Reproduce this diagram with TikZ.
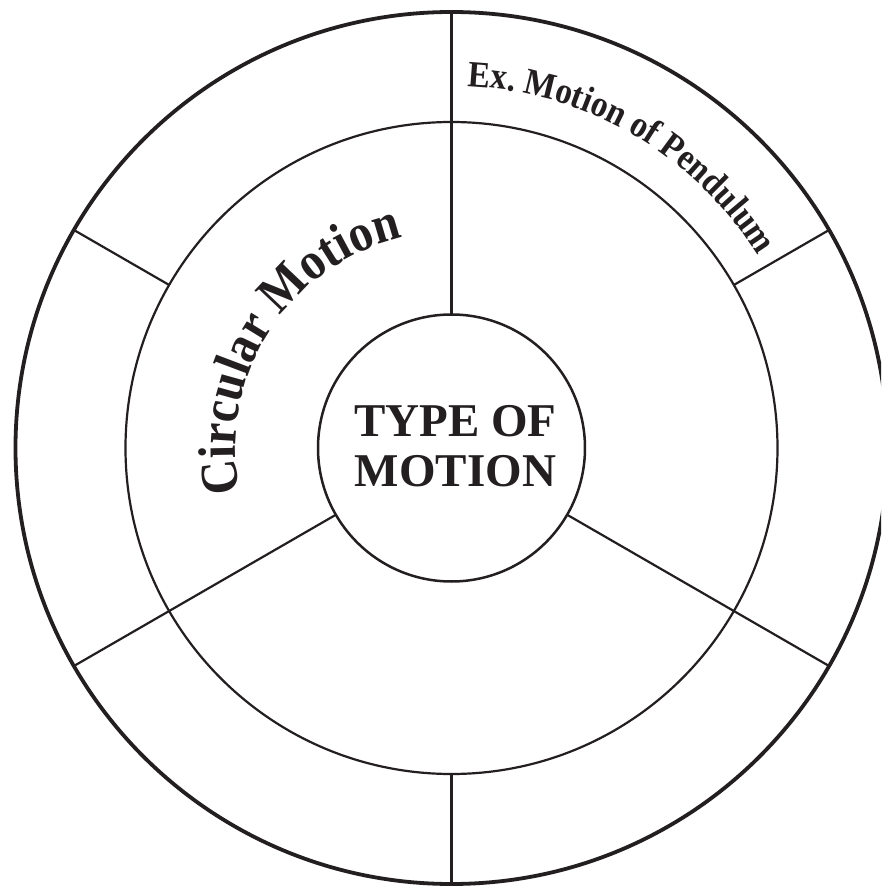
\documentclass[tikz,border=0pt]{standalone}
\usepackage{fontspec}
\setmainfont{Liberation Serif}
\newfontfamily\arcfont[FakeStretch=0.9]{Liberation Serif}
\usetikzlibrary{decorations.text}
\definecolor{ink}{HTML}{231F20}
\tikzset{
  ringline/.style={draw=ink, line width=2.2pt},
  outerline/.style={draw=ink, line width=3.8pt},
  innerline/.style={draw=ink, line width=2.5pt},
  spoke/.style={draw=ink, line width=2.2pt},
  centertext/.style={text=ink, font=\bfseries\fontsize{47}{47}\selectfont, inner sep=0pt, anchor=base},
}
\begin{document}
\begin{tikzpicture}[x=1pt,y=1pt]
\useasboundingbox (-451.5,-438) rectangle (429.5,448);
\clip (-451.5,-438) rectangle (429.5,448);
\fill[white] (-451.5,-438) rectangle (429.5,448);
\coordinate (c) at (0,0);
% circles
\draw[outerline] (c) circle[radius=436];
\draw[ringline] (c) circle[radius=326];
\draw[innerline] (c) circle[radius=133.5];
% spokes through middle ring (3 sectors)
\foreach \a in {90,210,330}{
  \draw[spoke] (\a:133.5) -- (\a:326);
}
% spokes through outer ring (6 sectors)
\foreach \a in {30,90,150,210,270,330}{
  \draw[spoke] (\a:326) -- (\a:434.5);
}
% centre text
\node[centertext] (t1) at (4,11) {TYPE OF};
\node[centertext] (t2) at (4,-38) {MOTION};
% curved labels
\path[decorate, decoration={text along path, text align=center,
  text={|\color{ink}\arcfont\bfseries\fontsize{53}{53}\selectfont|Circular Motion}}]
  (201:216) arc[start angle=201, end angle=94, radius=216];
\path[decorate, decoration={text along path, text align=center,
  text={|\color{ink}\arcfont\bfseries\fontsize{37}{37}\selectfont|Ex. Motion of Pendulum}}]
  (94:362) arc[start angle=94, end angle=25.6, radius=362];
\end{tikzpicture}
\end{document}
